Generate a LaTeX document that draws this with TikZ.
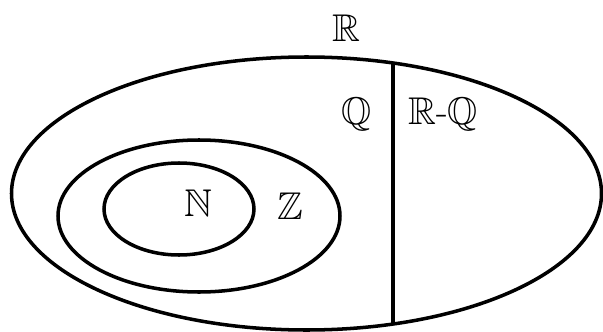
\documentclass[tikz,border=0pt]{standalone}
\usepackage{amssymb}

\begin{document}
\begin{tikzpicture}[x=0.03cm, y=-0.03cm,
  every node/.style={font=\fontsize{33}{35}\selectfont, inner sep=0pt},
  setline/.style={line width=3pt}]
  \useasboundingbox (0,0) rectangle (603,332);

  % sets
  \draw[setline] (306.5,193.5) ellipse (295 and 136.5);
  \draw[setline] (199,216) ellipse (141 and 76);
  \draw[setline] (179,209) ellipse (75 and 46);

  % split of R into Q and R-Q
  \coordinate (cuttop) at (393,62);
  \coordinate (cutbot) at (393,325);
  \draw[setline] (cuttop) -- (cutbot);

  \node (lR) at (346,28) {$\mathbb{R}$};
  \node (lQ) at (357,114) {$\mathbb{Q}$};
  \node (lRQ) at (443,114) {$\mathbb{R}$-$\mathbb{Q}$};
  \node (lN) at (198,203) {$\mathbb{N}$};
  \node (lZ) at (290,206) {$\mathbb{Z}$};
\end{tikzpicture}
\end{document}
